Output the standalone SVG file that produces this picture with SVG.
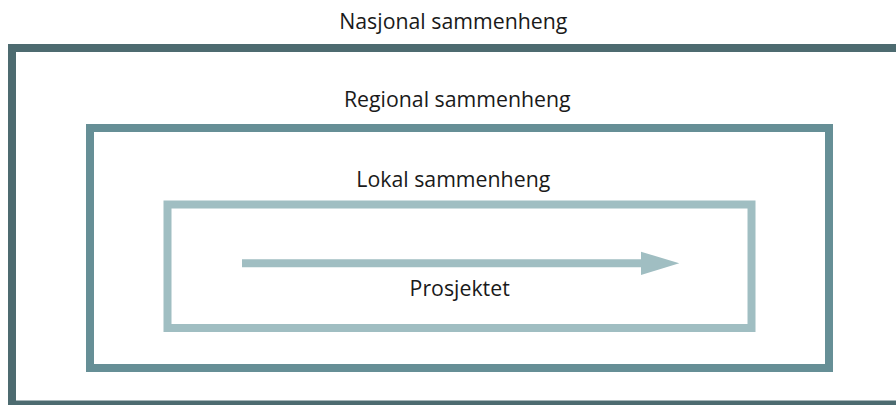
<svg xmlns="http://www.w3.org/2000/svg" width="896" height="405" viewBox="0 0 896 405">
<style>
text{font-family:"Open Sans","Noto Sans","Liberation Sans",sans-serif;font-size:21.3px;fill:#1a1a1a;text-anchor:middle}
.box{fill:none;stroke-width:8}
</style>
<rect width="896" height="405" fill="#ffffff"/>
<g id="nasjonal">
<rect class="box" x="12" y="48" width="900" height="356.5" stroke="#4d6b70"/>
<text x="453.3" y="29">Nasjonal sammenheng</text>
</g>
<g id="regional">
<rect class="box" x="90" y="128" width="739" height="240" stroke="#668f96"/>
<text x="457.3" y="107.3">Regional sammenheng</text>
</g>
<g id="lokal">
<rect class="box" x="167.5" y="204.5" width="584" height="123.5" stroke="#a0bec2"/>
<text x="453.3" y="187.3">Lokal sammenheng</text>
</g>
<g id="prosjektet">
<text x="459.7" y="296">Prosjektet</text>
</g>
<g id="connectors">
<line x1="242" y1="263.3" x2="643" y2="263.3" stroke="#a0bec2" stroke-width="8"/>
<polygon points="641,251.7 679.3,263.3 641,275" fill="#a0bec2"/>
</g>
</svg>
